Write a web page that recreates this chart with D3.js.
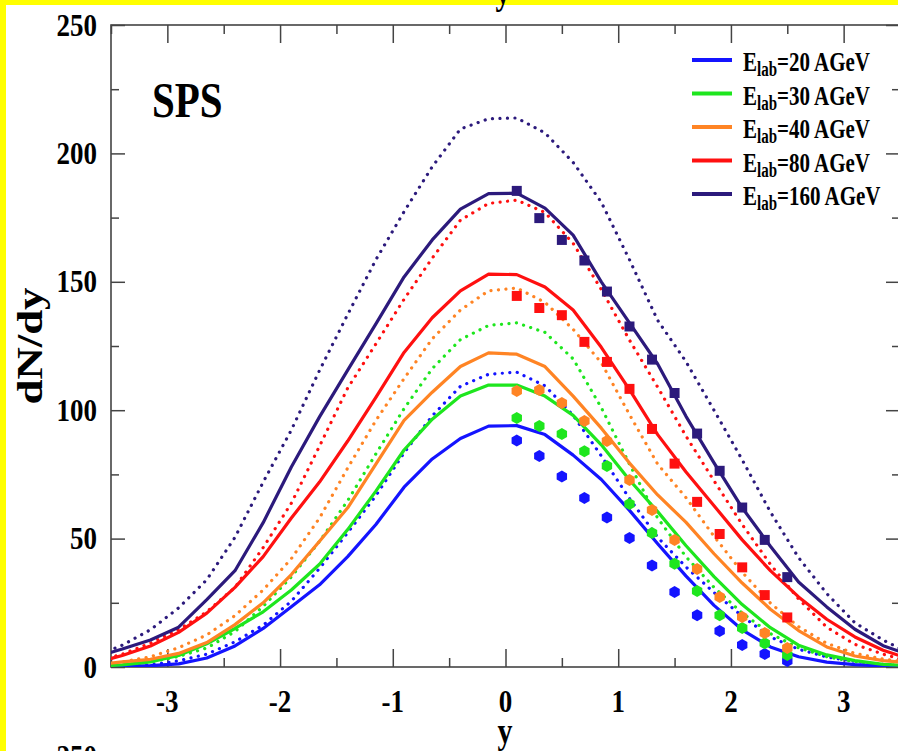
<!DOCTYPE html>
<html>
<head>
<meta charset="utf-8">
<script src="https://d3js.org/d3.v7.min.js"></script>
<style>
  body { margin: 0; background: #fff; overflow: hidden; }
  text { font-family: "Liberation Serif", "Times New Roman", serif; font-weight: bold; fill: #000; }
  .axis path { display: none; }
  .axis line { stroke: #444; stroke-width: 1.5px; }
</style>
</head>
<body>
<script>
// rapidity grid of the model curves
const rapidity = [-3.65, -3.4, -3.15, -2.9, -2.65, -2.4, -2.15, -1.9, -1.65, -1.4, -1.15, -0.9, -0.65, -0.4, -0.15,
  0.1, 0.35, 0.6, 0.85, 1.1, 1.35, 1.6, 1.85, 2.1, 2.35, 2.6, 2.85, 3.1, 3.35, 3.6];

// solid model curves
const solid20  = [0, 0.3, 0.5, 1.2, 3.5, 8.2, 15, 23.5, 32, 43, 55.5, 70, 81, 89, 93.8, 94, 90.5, 82.5, 73, 61, 48, 35.5, 24, 14.5, 7.8, 4, 1.9, 0.9, 0.4, 0.2];
const solid30  = [0.3, 0.8, 2, 4.5, 9, 15, 21.5, 30, 40, 53.5, 68.5, 84.5, 96.5, 105.5, 109.8, 109.8, 105.5, 98, 86.5, 72.8, 60.5, 47.3, 35.2, 24.3, 15.3, 8.5, 4.7, 2.5, 1, 0.5];
const solid40  = [0.8, 2, 3, 5.3, 9.5, 16.5, 25, 36, 49, 62, 79, 96, 107, 117, 122.3, 121.8, 117, 105.5, 93, 79.4, 67, 56.4, 44.1, 32.7, 22.5, 14.2, 7.8, 4.3, 2.5, 1.5];
const solid80  = [1.5, 4.5, 8.2, 13.5, 21, 31, 43, 58, 72, 88, 105, 122.5, 136, 146.5, 153, 152.8, 148, 139, 124.5, 108, 90.5, 76, 62.8, 49.5, 37.5, 27.3, 18.6, 11.7, 6.5, 3];
const solid160 = [3.8, 7, 10.5, 15.5, 26.2, 37.5, 56.2, 77.9, 97.4, 115.6, 133.6, 151.9, 166.3, 178.3, 184.3, 184.5, 178.7, 168.2, 150, 134, 118, 97.7, 79.5, 62, 47, 33.1, 23.4, 14.7, 8.3, 4.5];

// dotted model curves
const dot20  = [0.2, 0.5, 0.8, 2.4, 5, 9.8, 16.3, 25.6, 38.4, 52.3, 66.7, 83.4, 97.8, 109.3, 114, 114.8, 109.5, 98, 82.2, 65.6, 50.5, 39, 29, 19.8, 11.7, 6.9, 3.9, 2.2, 1, 0.4];
const dot30  = [0.1, 0.7, 2, 4.1, 7.4, 13.8, 23.6, 35.1, 48.9, 64.8, 83, 100.6, 116.2, 127.5, 133, 134, 130.3, 120, 101, 79, 58, 43, 31, 21, 13, 7.5, 4, 2, 0.9, 0.4];
const dot40  = [0.8, 2, 4, 7.5, 12.5, 20, 30, 42.2, 58, 77.5, 96, 112.3, 127.8, 139, 146.5, 147.6, 142, 131.5, 118.5, 98.3, 79, 66, 50.9, 36.9, 24.9, 15.7, 9.2, 5.3, 3.1, 1.7];
const dot80  = [2, 5, 9.3, 14.5, 21.5, 31, 46.5, 63.8, 86, 108.6, 125.8, 143.2, 159.2, 174, 180.5, 181.8, 177, 165, 147, 127.3, 109, 90, 72.5, 55.5, 40, 26.5, 15.5, 8.8, 5, 2];
const dot160 = [4, 8.5, 14.5, 23, 34, 50.5, 72, 92.3, 115.5, 137.3, 158.6, 177.3, 194.8, 209.5, 213.5, 213.8, 208, 196.5, 181, 158.6, 135, 119, 100, 80.7, 60.4, 42.6, 28.6, 17.2, 10.5, 5];

// measured points
const dataRapidity = [0.1, 0.3, 0.5, 0.7, 0.9, 1.1, 1.3, 1.5, 1.7, 1.9, 2.1, 2.3, 2.5];
const data20  = [88.2, 82.2, 74.2, 65.8, 58.2, 50.2, 39.5, 29.2, 20.2, 14.0, 8.6, 5.1, 2.3];
const data30  = [97, 93.8, 90.7, 84, 78.3, 63.5, 52.2, 40.2, 29.6, 20.2, 15.2, 9.2, 4.7];
const data40  = [107.5, 107.9, 102.8, 95.8, 88, 72.8, 61.1, 49.5, 38.2, 27.3, 19.5, 13.2, 7.4];
const data80  = [144.5, 139.8, 137, 126.6, 118.8, 108.3, 92.7, 79.2, 64.3, 51.8, 38.8, 28, 19.3];
const data160 = [185.4, 174.8, 166.3, 158.3, 146.2, 132.6, 119.7, 106.7, 90.9, 76.4, 62.1, 49.5, 35];

const energies = ["20", "30", "40", "80", "160"];
const colors = ["#1414ff", "#1ee61e", "#ff8424", "#ff1010", "#2c1a7c"];
const markerShapes = ["hex", "hex", "hex", "square", "square"];

const xTicksMajor = [-3, -2, -1, 0, 1, 2, 3];
const xTicksMinor = [-2.5, -1.5, -0.5, 0.5, 1.5, 2.5, -3.5, 3.5];
const yTicksMajor = [0, 50, 100, 150, 200, 250];
const yTicksMinor = [25, 75, 125, 175, 225];

const solids = [solid20, solid30, solid40, solid80, solid160];
const dots = [dot20, dot30, dot40, dot80, dot160];
const points = [data20, data30, data40, data80, data160];

const W = 898, H = 751;
const pLeft = 111, pRight = 900, pTop = 25, pBottom = 667;

const svg = d3.select("body").append("svg")
  .attr("width", W).attr("height", H);

const x = d3.scaleLinear().domain([-3.5, 3.5]).range([pLeft, pRight]);
const y = d3.scaleLinear().domain([0, 250]).range([pBottom, pTop]);

svg.append("defs").append("clipPath").attr("id", "plot")
  .append("rect").attr("x", pLeft).attr("y", pTop)
  .attr("width", pRight - pLeft).attr("height", pBottom - pTop);

// frame
svg.append("rect")
  .attr("x", pLeft).attr("y", pTop)
  .attr("width", pRight - pLeft).attr("height", pBottom - pTop)
  .attr("fill", "none").attr("stroke", "#444").attr("stroke-width", 1.6);

// ticks, pointing inward on all four sides
function tickAxis(axisFn, scale, values, size, transform) {
  svg.append("g").attr("class", "axis")
    .attr("transform", transform)
    .call(axisFn(scale).tickValues(values).tickSize(-size).tickFormat(""));
}
tickAxis(d3.axisBottom, x, xTicksMajor, 18, `translate(0,${pBottom})`);
tickAxis(d3.axisBottom, x, xTicksMinor, 9, `translate(0,${pBottom})`);
tickAxis(d3.axisTop, x, xTicksMajor, 18, `translate(0,${pTop})`);
tickAxis(d3.axisTop, x, xTicksMinor, 9, `translate(0,${pTop})`);
tickAxis(d3.axisLeft, y, yTicksMajor, 14, `translate(${pLeft},0)`);
tickAxis(d3.axisLeft, y, yTicksMinor, 8, `translate(${pLeft},0)`);
tickAxis(d3.axisRight, y, yTicksMajor, 14, `translate(${pRight},0)`);
tickAxis(d3.axisRight, y, yTicksMinor, 8, `translate(${pRight},0)`);

// stretched text helper (the original figure is stretched vertically)
function label(px, py, str, size, sy, anchor) {
  return svg.append("text")
    .attr("transform", `translate(${px},${py}) scale(1,${sy})`)
    .attr("text-anchor", anchor || "start")
    .style("font-size", size + "px")
    .text(str);
}

yTicksMajor.forEach(v => label(97, y(v) + 10.5, String(v), 27, 1.18, "end"));
xTicksMajor.forEach(v => label(x(v), 712, String(v), 27, 1.18, "middle"));

// plot content
const plot = svg.append("g").attr("clip-path", "url(#plot)");
const line = d3.line().x((d, i) => x(rapidity[i])).y(d => y(d));

dots.forEach((s, k) => {
  plot.append("path").datum(s)
    .attr("d", line)
    .attr("fill", "none")
    .attr("stroke", colors[k])
    .attr("stroke-width", 3.2)
    .attr("stroke-linecap", "round")
    .attr("stroke-dasharray", "0.1 7.4");
});
solids.forEach((s, k) => {
  plot.append("path").datum(s)
    .attr("d", line)
    .attr("fill", "none")
    .attr("stroke", colors[k])
    .attr("stroke-width", 3.2)
    .attr("stroke-linejoin", "round");
});

const hex = d3.line()(d3.range(6).map(i => {
  const a = Math.PI / 6 + i * Math.PI / 3;
  return [6 * Math.cos(a), 6 * Math.sin(a)];
})) + "Z";

points.forEach((s, k) => {
  svg.append("g").selectAll("path")
    .data(s)
    .join("path")
    .attr("transform", (d, i) => `translate(${x(dataRapidity[i])},${y(d)})`)
    .attr("d", markerShapes[k] === "square" ? "M-5,-5H5V5H-5Z" : hex)
    .attr("fill", colors[k]);
});

// legend
energies.forEach((e, k) => {
  const ly = 60 + k * 33.5;
  svg.append("line")
    .attr("x1", 692).attr("x2", 732)
    .attr("y1", ly).attr("y2", ly)
    .attr("stroke", colors[k]).attr("stroke-width", 4);
  const t = label(743, ly + 11, "E", 21, 1.35);
  t.append("tspan").attr("dy", 4).style("font-size", "15px").text("lab");
  t.append("tspan").attr("dy", -4).text("=" + e + " AGeV");
});

label(152, 117, "SPS", 41, 1.25);

svg.append("text")
  .attr("transform", "translate(42,346) rotate(-90) scale(1.28,1)")
  .attr("text-anchor", "middle")
  .style("font-size", "35px")
  .text("dN/dy");

label(505, 743, "y", 30, 1.22, "middle");

// yellow border of the page crop
svg.append("rect").attr("x", 0).attr("y", 0).attr("width", 6).attr("height", H).attr("fill", "#ffff00");
svg.append("rect").attr("x", 0).attr("y", 0).attr("width", W).attr("height", 5).attr("fill", "#ffff00");

// fragments of the neighbouring panels
label(503, 4, "y", 30, 1.25, "middle");
label(97, 767, "250", 27, 1.18, "end");
</script>
</body>
</html>
